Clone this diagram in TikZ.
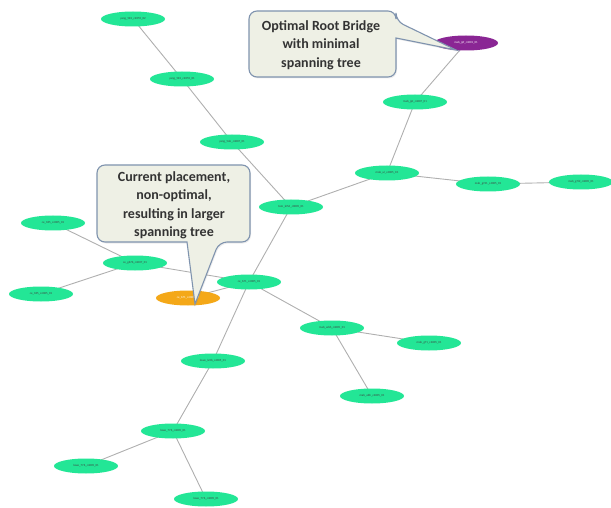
\documentclass[tikz,border=0pt]{standalone}
\usepackage{fontspec}
\setmainfont{Carlito}
\usetikzlibrary{shapes.geometric,shadows}
\pgfdeclarelayer{edges}
\pgfsetlayers{edges,main}
\definecolor{swgreen}{RGB}{35,230,150}
\definecolor{rootorange}{RGB}{244,168,24}
\definecolor{rootpurple}{RGB}{138,38,148}
\definecolor{linkgray}{RGB}{175,175,175}
\definecolor{callfill}{RGB}{238,240,229}
\definecolor{callborder}{RGB}{127,147,174}
\begin{document}
\begin{tikzpicture}[x=1pt,y=-1pt,
  sw/.style={ellipse, fill=swgreen, minimum width=64pt, minimum height=15pt,
    inner sep=0pt, font=\fontsize{3}{3}\selectfont, text=black!75},
  curroot/.style={sw, fill=rootorange, text=white},
  bestroot/.style={sw, fill=rootpurple, text=white},
  link/.style={draw=linkgray, line width=0.9pt},
  callout/.style={fill=callfill, draw=callborder, line width=1.1pt,
    drop shadow={shadow xshift=1pt, shadow yshift=-1.5pt, opacity=0.15}},
  calltext/.style={align=center, text=black!80,
    font=\bfseries\fontsize{14}{18.5}\selectfont}]
\useasboundingbox (0,0) rectangle (611,508);

% switches
\node[sw] (y2) at (133,19) {yang\_5K1\_c2055\_02};
\node[sw] (y1) at (182,79) {yang\_5K1\_c2055\_01};
\node[sw] (y0) at (232,142) {yang\_5ob\_c4007\_01};
\node[sw] (tom) at (291,207) {tom\_kr56\_c0005\_01};
\node[bestroot] (mp) at (466,43) {mab\_jpf\_c4001\_01};
\node[sw] (mjpt) at (415,102) {mab\_jpt\_c4007\_01};
\node[sw] (mul) at (387,173) {mab\_ul\_c4005\_01};
\node[sw] (mg1) at (488,184) {mab\_g741\_c4005\_01};
\node[sw] (mg2) at (581,182) {mab\_g7ld\_c4005\_01};
\node[sw] (ce1) at (53,223) {ce\_185\_c4005\_01};
\node[sw] (ceg) at (135,263) {ce\_g67b\_c4007\_01};
\node[sw] (ce2) at (41,294) {ce\_185\_c4005\_01};
\node[curroot] (cor) at (188,298) {ce\_671\_c4005\_07};
\node[sw] (c671) at (249,282) {ce\_671\_c4005\_01};
\node[sw] (mwbh) at (332,328) {mab\_wbh\_c4005\_01};
\node[sw] (mg71) at (429,343) {mab\_g71\_c4005\_01};
\node[sw] (mabh) at (372,396) {mab\_abh\_c4005\_01};
\node[sw] (lle) at (213,361) {lowe\_le5b\_c4005\_01};
\node[sw] (l776) at (173,431) {lowe\_776\_c4005\_01};
\node[sw] (l776a) at (86,466) {lowe\_776\_c4005\_01};
\node[sw] (l776b) at (206,499) {lowe\_776\_c4005\_01};

% links, kept behind the switches
\begin{pgfonlayer}{edges}
\draw[link] (y2.center) -- (y1.center) -- (y0.center) -- (tom.center);
\draw[link] (tom.center) -- (mul.center);
\draw[link] (mul.center) -- (mjpt.center) -- (mp.center);
\draw[link] (mul.center) -- (mg1.center) -- (mg2.center);
\draw[link] (tom.center) -- (c671.center) -- (lle.center);
\draw[link] (ceg.center) -- (ce1.center);
\draw[link] (ceg.center) -- (ce2.center);
\draw[link] (ceg.center) -- (c671.center);
\draw[link] (cor.center) -- (c671.center);
\draw[link] (c671.center) -- (mwbh.center) -- (mg71.center);
\draw[link] (mwbh.center) -- (mabh.center);
\draw[link] (lle.center) -- (l776.center);
\draw[link] (l776.center) -- (l776a.center);
\draw[link] (l776.center) -- (l776b.center);
\end{pgfonlayer}

% callout pointing at the optimal root
\coordinate (tipbest) at ([xshift=-10pt,yshift=-7pt]mp.center);
\draw[callout, rounded corners=8pt] (320,11) -- (396,11) -- (396,21)
  [sharp corners] -- (tipbest) -- (396,38)
  [rounded corners=8pt] -- (396,77) -- (249,77) -- (249,11) -- cycle;
\node[calltext] (tbest) at (321,45) {Optimal Root Bridge\\with minimal\\spanning tree};

% callout pointing at the current root
\coordinate (tipcur) at ([xshift=7pt,yshift=-6pt]cor.center);
\draw[callout, rounded corners=8pt] (170,165) -- (250,165) -- (250,242)
  -- (219,242) [sharp corners] -- (tipcur) -- (187,242)
  [rounded corners=8pt] -- (97,242) -- (97,165) -- cycle;
\node[calltext] (tcur) at (174,205.5) {Current placement,\\non-optimal,\\resulting in larger\\spanning tree};
\end{tikzpicture}
\end{document}
